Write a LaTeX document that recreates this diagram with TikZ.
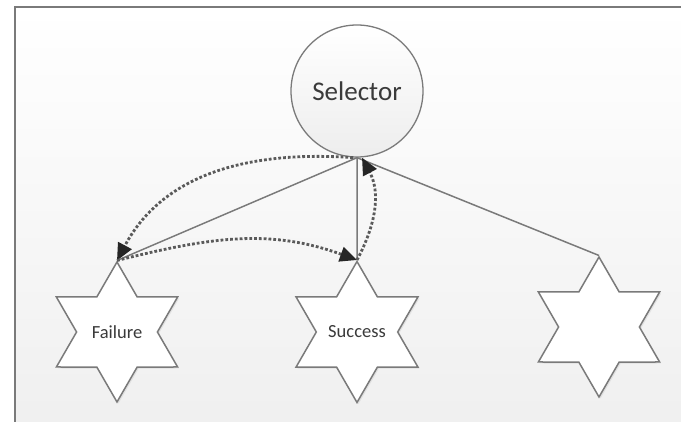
\documentclass[tikz,border=0pt]{standalone}
\usepackage{fontspec}
\setmainfont{Carlito}
\usetikzlibrary{shapes.geometric,arrows.meta,shadows}
\definecolor{edgegray}{HTML}{7A7A7A}
\definecolor{dotgray}{HTML}{5A5A5A}
\definecolor{textgray}{HTML}{3A3A3A}
\tikzset{
    hexstar/.style={star, star points=6, star point ratio=1.732, minimum size=140pt,
        inner sep=0pt, draw=edgegray, line width=1.5pt, fill=white,
        drop shadow={shadow xshift=1.5pt, shadow yshift=-1.5pt, opacity=0.15},
        font=\fontsize{18.5}{20}\selectfont, text=textgray},
    selbox/.style={circle, minimum size=132pt, inner sep=0pt, draw=edgegray,
        line width=1.3pt, top color=white, bottom color=black!7,
        font=\fontsize{27}{30}\selectfont, text=textgray},
    link/.style={draw=edgegray, line width=1.5pt},
    flow/.style={draw=dotgray, line width=2.8pt, dash pattern=on 2.8pt off 2pt,
        -{Triangle[length=17pt,width=15pt,color=black!85]}}
}
\begin{document}
\begin{tikzpicture}[x=1pt,y=-1pt]
    \useasboundingbox (0,0) rectangle (681,422);
    \fill[white] (0,0) rectangle (681,422);
    \shade[top color=white, bottom color=black!6] (15,7) rectangle (681,422);
    \draw[edgegray, line width=1.6pt] (15,422) -- (15,7) -- (681,7);
    % nodes
    \node[selbox] (sel) at (357,91) {Selector};
    \node[hexstar] (fail) at (117,332) {Failure};
    \node[hexstar] (succ) at (357,332) {Success};
    \node[hexstar] (other) at (599,327) {};
    % plain links
    \draw[link] (sel.south) -- (fail.north);
    \draw[link] (sel.south) -- (succ.north);
    \draw[link] (sel.south) -- (other.north);
    % dotted flow
    \draw[flow] ([xshift=-4pt]sel.south) to[out=176,in=62] (fail.north);
    \draw[flow] (fail.north) to[out=14,in=160] (succ.north);
    \draw[flow] (succ.north) to[out=62,in=-62] ([xshift=5pt]sel.south);
\end{tikzpicture}
\end{document}
